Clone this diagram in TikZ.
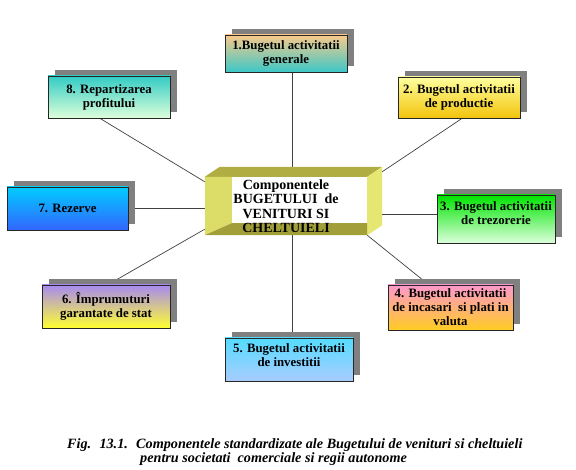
\documentclass[tikz,border=0pt]{standalone}
\usepackage{fontspec}
\setmainfont{Liberation Serif}
\usetikzlibrary{shadows, backgrounds}

\definecolor{topA}{HTML}{F9C98A}  \definecolor{botA}{HTML}{3CC8C8}
\definecolor{topB}{HTML}{FFFF9E}  \definecolor{botB}{HTML}{F2C40C}
\definecolor{topC}{HTML}{00E400}  \definecolor{botC}{HTML}{DCFFDC}
\definecolor{topD}{HTML}{FF98CC}  \definecolor{botD}{HTML}{FFCC22}
\definecolor{topE}{HTML}{55DCFF}  \definecolor{botE}{HTML}{A8CCFF}
\definecolor{topF}{HTML}{A88AF0}  \definecolor{botF}{HTML}{FFFF30}
\definecolor{topG}{HTML}{00CCFF}  \definecolor{botG}{HTML}{3366FF}
\definecolor{topH}{HTML}{33CCC4}  \definecolor{botH}{HTML}{DDFFDA}
\definecolor{facetop}{HTML}{B0AE42}
\definecolor{faceright}{HTML}{E6E673}
\definecolor{faceleft}{HTML}{DCDC68}
\definecolor{facebottom}{HTML}{A29E3A}

\pgfdeclarelayer{lines}
\pgfsetlayers{lines,background,main}

\begin{document}
\begin{tikzpicture}[
                    x=1pt, y=-1pt,
                    block/.style={rectangle, draw=black!85, line width=0.8pt, align=center, inner sep=2pt,
                                  font=\bfseries\fontsize{12.8}{14}\selectfont,
                                  general shadow={fill=black!50, shadow xshift=7pt, shadow yshift=6pt}},
                    core/.style={rectangle, align=center, inner sep=0pt, minimum width=162pt, minimum height=58pt,
                                 font=\bfseries\fontsize{14}{14.5}\selectfont},
                    line/.style={draw=black!75, line width=0.7pt}
                ]
                    \useasboundingbox (0,0) rectangle (576,470);

                    \node [core] (core) at (286,206) {Componentele\\BUGETULUI~ de\\VENITURI SI\\CHELTUIELI};

                    \node [block, top color=topA, bottom color=botA, minimum width=122pt, minimum height=37pt] (b1) at (286,53.5) {1.Bugetul activitatii\\generale};
                    \node [block, top color=topB, bottom color=botB, minimum width=122pt, minimum height=41pt] (b2) at (459,97.5) {2. Bugetul activitatii\\de productie};
                    \node [block, top color=topC, bottom color=botC, minimum width=118pt, minimum height=48pt] (b3) at (496,219) {3. Bugetul activitatii\\de trezorerie\\[-2pt]\mbox{}};
                    \node [block, top color=topD, bottom color=botD, minimum width=125pt, minimum height=45pt] (b4) at (450.5,307.5) {4. Bugetul activitatii\\de incasari~ si plati in\\valuta};
                    \node [block, top color=topE, bottom color=botE, minimum width=128pt, minimum height=43pt] (b5) at (289,359.5) {5. Bugetul activitatii\\de investitii\\[-6pt]\mbox{}};
                    \node [block, top color=topF, bottom color=botF, minimum width=128pt, minimum height=43pt] (b6) at (106,306.5) {6. Împrumuturi\\garantate de stat};
                    \node [block, top color=topG, bottom color=botG, minimum width=121pt, minimum height=43pt] (b7) at (67.5,208.5) {7. Rezerve};
                    \node [block, top color=topH, bottom color=botH, minimum width=122pt, minimum height=42pt] (b8) at (109,97) {8. Repartizarea\\profitului};

                    % 3D frame round the centre
                    \begin{pgfonlayer}{background}
                        \fill [facetop] (core.north west) -- ++(15,-10) -- ([shift={(15,-10)}]core.north east) -- (core.north east) -- cycle;
                        \fill [faceright] (core.north east) -- ++(15,-10) -- ([shift={(15,-10)}]core.south east) -- (core.south east) -- cycle;
                        \fill [white] (core.north west) rectangle (core.south east);
                        \fill [faceleft] (core.north west) -- ++(27,0) -- ([shift={(27,-12)}]core.south west) -- (core.south west) -- cycle;
                        \fill [facebottom] (core.south west) -- ++(27,-12) -- ([yshift=12pt]core.south east) -- (core.south east) -- cycle;
                    \end{pgfonlayer}

                    % Spokes
                    \begin{pgfonlayer}{lines}
                        \path [line] ([xshift=6pt]b1.south) -- ([xshift=6pt]core.north);
                        \path [line] ([xshift=3pt]b2.south) -- ([shift={(3,3)}]core.north east);
                        \path [line] ([yshift=5pt]b3.west) -- ([yshift=5pt]b3.west -| core.east);
                        \path [line] ([xshift=-22pt]b4.north) -- (core.south east);
                        \path [line] ([xshift=3pt]b5.north) -- ([xshift=6pt]core.south);
                        \path [line] ([xshift=2pt]b6.north) -- ([yshift=6pt]core.south west);
                        \path [line] (b7.east) -- (b7.east -| core.west);
                        \path [line] ([xshift=-9pt]b8.south) -- ([yshift=-5pt]core.north west);
                    \end{pgfonlayer}

                    \node [anchor=north west, align=left, inner sep=0pt, font=\bfseries\itshape\fontsize{14.2}{14.5}\selectfont] (caption) at (67,438)
                        {Fig.~ 13.1.~ Componentele standardizate ale Bugetului de venituri si cheltuieli\\\hspace*{73pt}pentru societati~ comerciale si regii autonome};
                \end{tikzpicture}
\end{document}
